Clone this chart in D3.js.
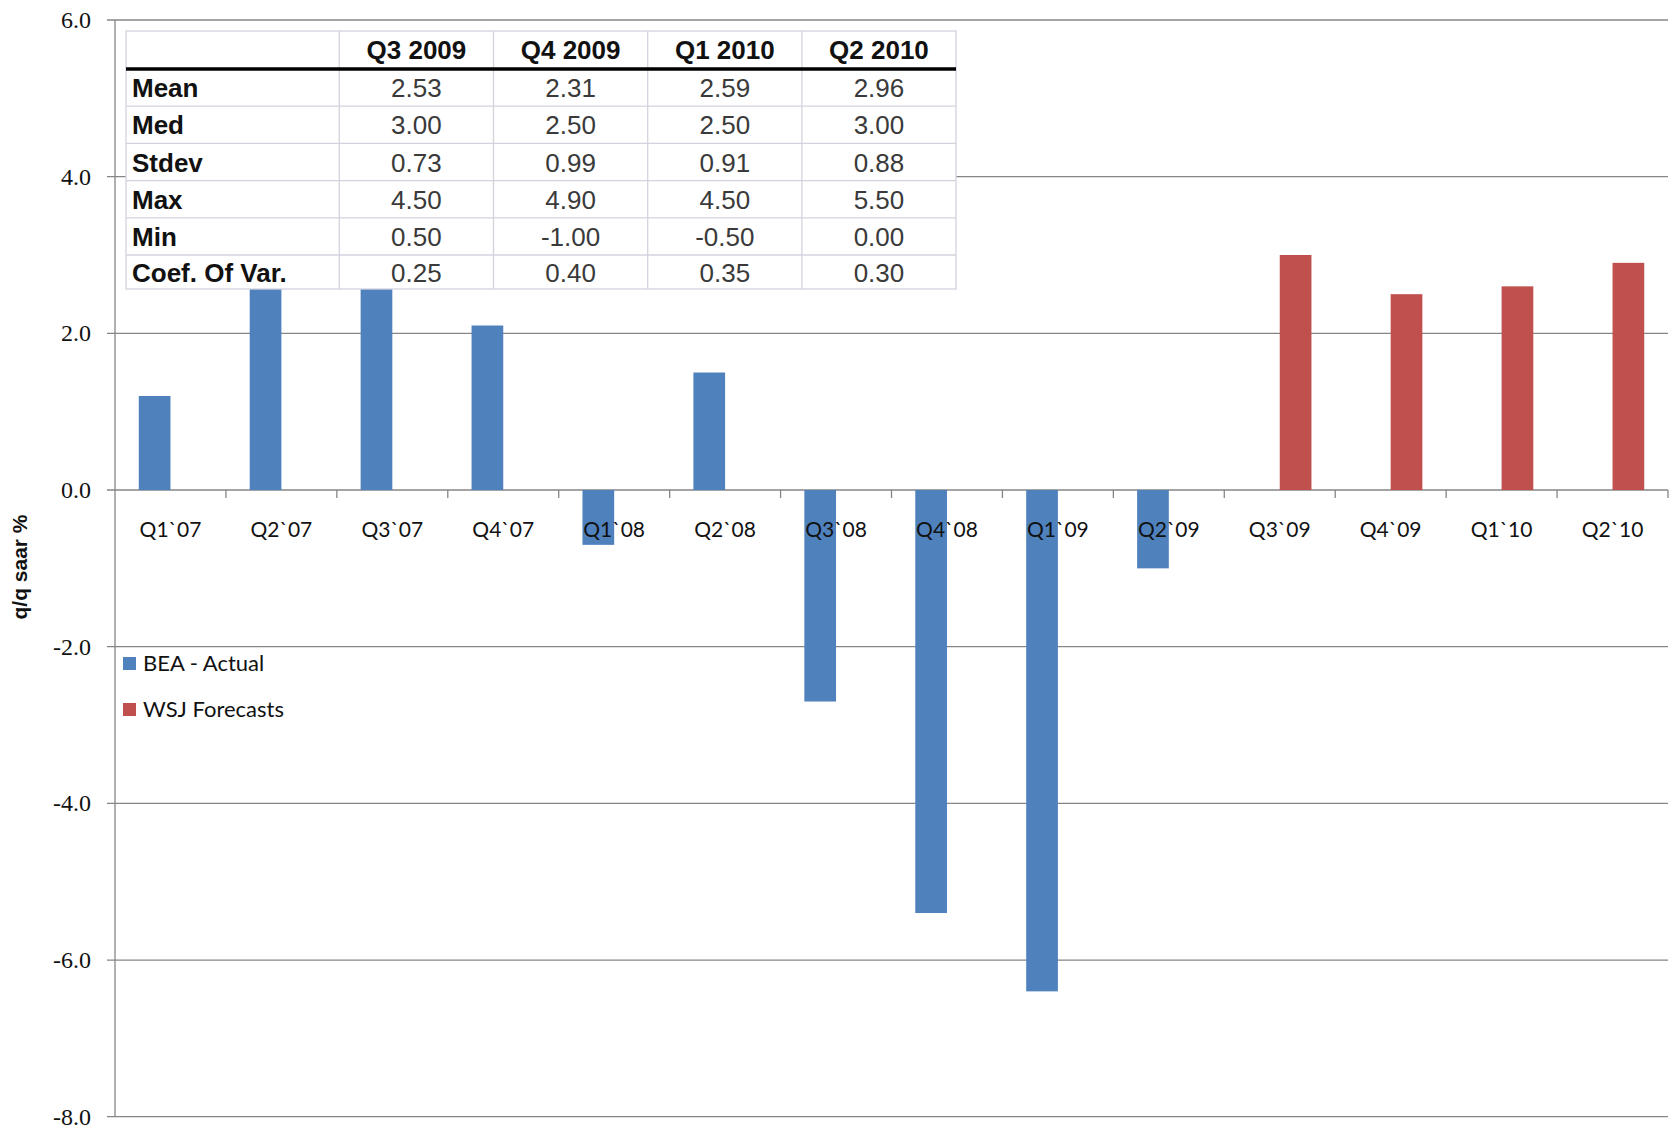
<!DOCTYPE html>
<html>
<head>
<meta charset="utf-8">
<script src="https://cdn.jsdelivr.net/npm/d3@7"></script>
<style>
  body { margin: 0; background: #fff; }
</style>
</head>
<body>
<svg id="chart"></svg>
<script>
// quarters on the x axis
const quarters = ["Q1`07", "Q2`07", "Q3`07", "Q4`07", "Q1`08", "Q2`08", "Q3`08",
                  "Q4`08", "Q1`09", "Q2`09", "Q3`09", "Q4`09", "Q1`10", "Q2`10"];
// BEA actual GDP growth (q/q saar %)
const beaActual = [1.2, 3.2, 3.6, 2.1, -0.7, 1.5, -2.7, -5.4, -6.4, -1.0, null, null, null, null];
// WSJ forecasts
const wsjForecast = [null, null, null, null, null, null, null, null, null, null, 3.0, 2.5, 2.6, 2.9];

const yTicks = [6, 4, 2, 0, -2, -4, -6, -8];

// summary table
const tableCols = ["Q3 2009", "Q4 2009", "Q1 2010", "Q2 2010"];
const statNames = ["Mean", "Med", "Stdev", "Max", "Min", "Coef. Of Var."];
const statMean = ["2.53", "2.31", "2.59", "2.96"];
const statMed = ["3.00", "2.50", "2.50", "3.00"];
const statStdev = ["0.73", "0.99", "0.91", "0.88"];
const statMax = ["4.50", "4.90", "4.50", "5.50"];
const statMin = ["0.50", "-1.00", "-0.50", "0.00"];
const statCov = ["0.25", "0.40", "0.35", "0.30"];
const statRows = [statMean, statMed, statStdev, statMax, statMin, statCov];

const seriesNames = ["BEA - Actual", "WSJ Forecasts"];
const seriesColors = ["#4F81BD", "#C0504D"];

const W = 1671, H = 1131;
const plotLeft = 115, plotRight = 1668, plotTop = 20, plotBottom = 1116.7;
const gridColor = "#868686";

const svg = d3.select("#chart")
    .attr("width", W)
    .attr("height", H);

const x = d3.scaleBand().domain(quarters).range([plotLeft, plotRight]).padding(0);
// two series per category, Excel style gap (150%)
const xs = d3.scaleBand().domain([0, 1]).range([0, x.bandwidth()])
    .paddingInner(0).paddingOuter(0.75);
const y = d3.scaleLinear().domain([-8, 6]).range([plotBottom, plotTop]);

// horizontal grid lines
svg.append("g")
    .selectAll("line")
    .data(yTicks)
    .enter().append("line")
    .attr("x1", plotLeft - 8)
    .attr("x2", plotRight)
    .attr("y1", d => y(d))
    .attr("y2", d => y(d))
    .attr("stroke", gridColor)
    .attr("stroke-width", 1.3);

// y axis line
svg.append("line")
    .attr("x1", plotLeft).attr("x2", plotLeft)
    .attr("y1", y(6)).attr("y2", y(-8))
    .attr("stroke", gridColor)
    .attr("stroke-width", 1.3);

// y tick labels (serif like the original)
svg.append("g")
    .selectAll("text")
    .data(yTicks)
    .enter().append("text")
    .attr("x", 91)
    .attr("y", d => y(d))
    .attr("dy", "0.33em")
    .attr("text-anchor", "end")
    .style("font-family", "'Liberation Serif', 'DejaVu Serif', serif")
    .attr("font-size", 24)
    .attr("fill", "#111")
    .text(d => d.toFixed(1));

// x tick marks at category boundaries
const bounds = quarters.map(q => x(q) + x.bandwidth());
svg.append("g")
    .selectAll("line")
    .data(bounds)
    .enter().append("line")
    .attr("x1", d => d).attr("x2", d => d)
    .attr("y1", y(0)).attr("y2", y(0) + 8)
    .attr("stroke", gridColor)
    .attr("stroke-width", 1.3);

// bars
const series = [beaActual, wsjForecast];
series.forEach((vals, si) => {
    svg.append("g")
        .selectAll("rect")
        .data(quarters.map((q, i) => ({ q: q, v: vals[i] })).filter(d => d.v !== null))
        .enter().append("rect")
        .attr("x", d => x(d.q) + xs(si))
        .attr("width", xs.bandwidth())
        .attr("y", d => y(Math.max(0, d.v)))
        .attr("height", d => Math.abs(y(d.v) - y(0)))
        .attr("fill", seriesColors[si]);
});

// x labels
svg.append("g")
    .selectAll("text")
    .data(quarters)
    .enter().append("text")
    .attr("x", d => x(d) + x.bandwidth() / 2)
    .attr("y", 537)
    .attr("text-anchor", "middle")
    .style("font-family", "Lato, sans-serif")
    .attr("font-size", 21)
    .attr("fill", "#111")
    .text(d => d);

// y axis title
svg.append("text")
    .attr("transform", "translate(27,567) rotate(-90)")
    .attr("text-anchor", "middle")
    .style("font-family", "'Liberation Sans', Arial, sans-serif")
    .attr("font-weight", "bold")
    .attr("font-size", 21)
    .attr("fill", "#111")
    .text("q/q saar %");

// legend
const legend = svg.append("g")
    .selectAll("g")
    .data(seriesNames)
    .enter().append("g")
    .attr("transform", (d, i) => `translate(123,${657 + i * 46})`);

legend.append("rect")
    .attr("width", 13)
    .attr("height", 13)
    .attr("fill", (d, i) => seriesColors[i]);

legend.append("text")
    .attr("x", 20)
    .attr("y", 14)
    .style("font-family", "Lato, sans-serif")
    .attr("font-size", 22)
    .attr("fill", "#111")
    .text(d => d);

// summary table drawn over the plot
const colX = [126, 339.3, 493.5, 647.7, 801.9, 956];
const rowY = [31, 69, 106.2, 143.4, 180.6, 217.8, 255, 289];
const cellLine = "#d3d3df";
const tbl = svg.append("g");

tbl.append("rect")
    .attr("x", colX[0]).attr("y", rowY[0])
    .attr("width", colX[5] - colX[0])
    .attr("height", rowY[7] - rowY[0])
    .attr("fill", "#fff")
    .attr("stroke", cellLine)
    .attr("stroke-width", 1.3);

// inner lines
tbl.selectAll(".vline")
    .data(colX.slice(1, 5))
    .enter().append("line")
    .attr("x1", d => d).attr("x2", d => d)
    .attr("y1", rowY[0]).attr("y2", rowY[7])
    .attr("stroke", cellLine)
    .attr("stroke-width", 1.3);

tbl.selectAll(".hline")
    .data(rowY.slice(2, 7))
    .enter().append("line")
    .attr("x1", colX[0]).attr("x2", colX[5])
    .attr("y1", d => d).attr("y2", d => d)
    .attr("stroke", cellLine)
    .attr("stroke-width", 1.3);

// thick rule under header
tbl.append("line")
    .attr("x1", colX[0]).attr("x2", colX[5])
    .attr("y1", rowY[1]).attr("y2", rowY[1])
    .attr("stroke", "#000")
    .attr("stroke-width", 3.5);

const tFont = "'Liberation Sans', Arial, sans-serif";

// header
tbl.selectAll(".head")
    .data(tableCols)
    .enter().append("text")
    .attr("x", (d, i) => (colX[i + 1] + colX[i + 2]) / 2)
    .attr("y", 59)
    .attr("text-anchor", "middle")
    .style("font-family", tFont)
    .attr("font-weight", "bold")
    .attr("font-size", 26)
    .attr("fill", "#111")
    .text(d => d);

// row names
tbl.selectAll(".rowname")
    .data(statNames)
    .enter().append("text")
    .attr("x", 132)
    .attr("y", (d, i) => (rowY[i + 1] + rowY[i + 2]) / 2 + 9.5)
    .style("font-family", tFont)
    .attr("font-weight", "bold")
    .attr("font-size", 26)
    .attr("fill", "#111")
    .text(d => d);

// values
statRows.forEach((row, ri) => {
    tbl.append("g")
        .selectAll("text")
        .data(row)
        .enter().append("text")
        .attr("x", (d, i) => (colX[i + 1] + colX[i + 2]) / 2)
        .attr("y", (rowY[ri + 1] + rowY[ri + 2]) / 2 + 9.5)
        .attr("text-anchor", "middle")
        .style("font-family", tFont)
        .attr("font-size", 26)
        .attr("fill", "#3a3a3a")
        .text(d => d);
});
</script>
</body>
</html>
